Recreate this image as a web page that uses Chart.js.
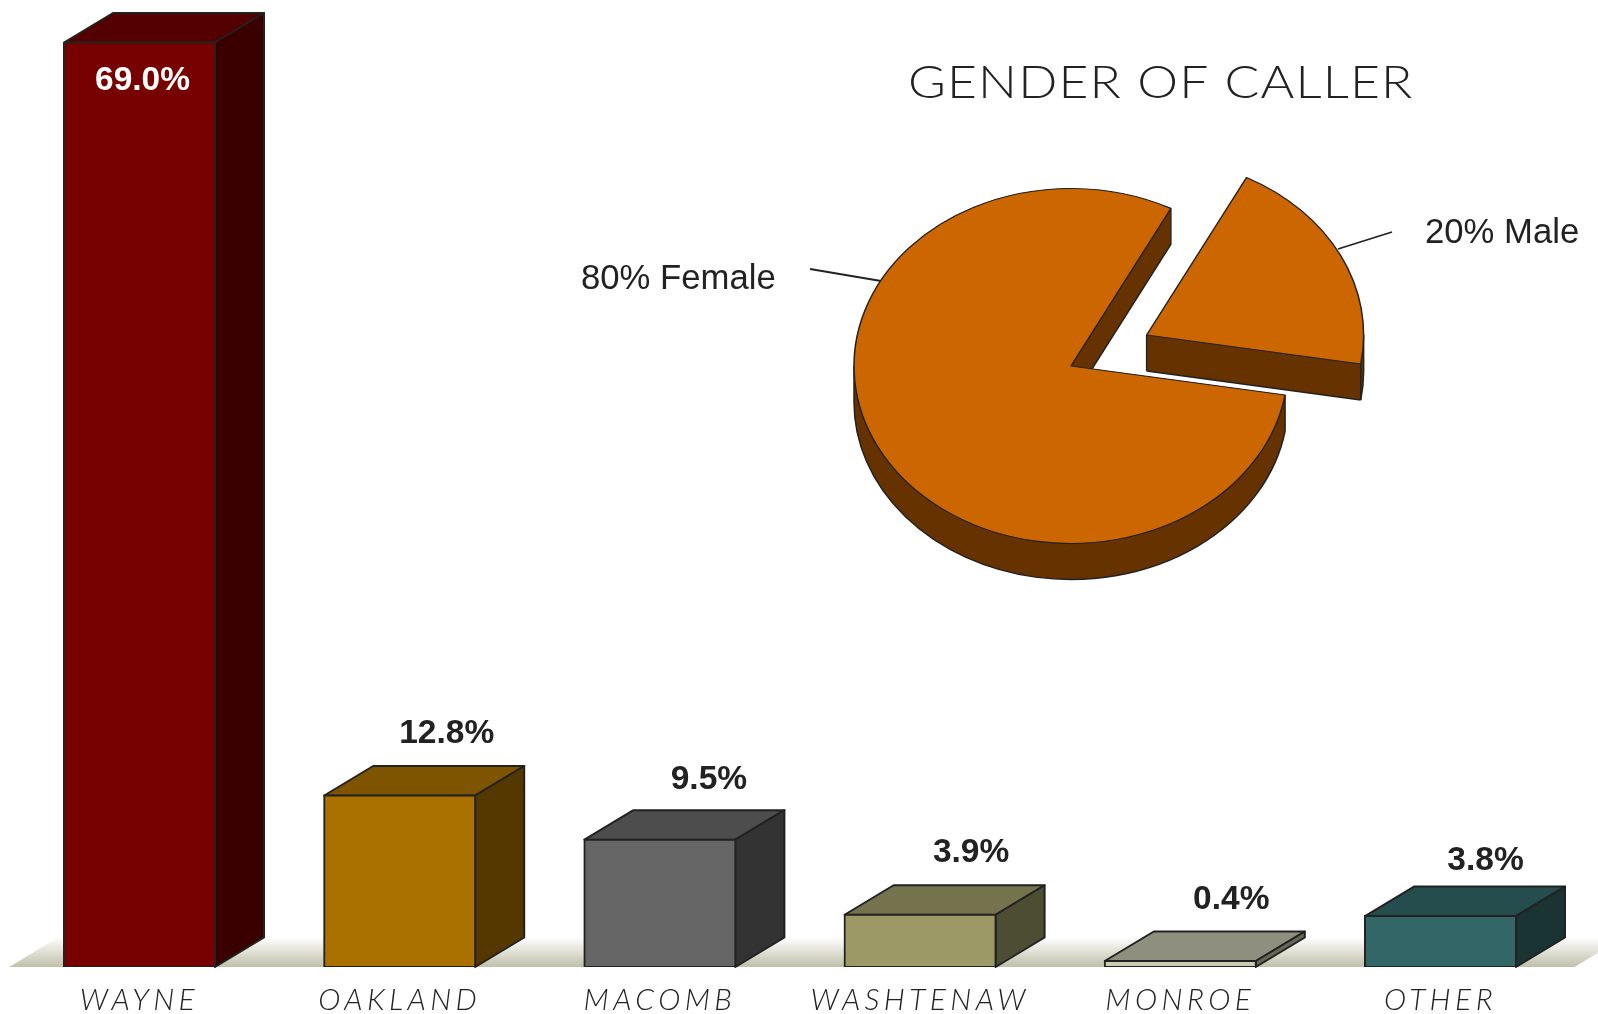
<!DOCTYPE html>
<html><head><meta charset="utf-8">
<style>html,body{margin:0;padding:0;background:#fff;overflow:hidden}canvas{position:absolute;left:0;top:0}</style>
<script src="https://cdn.jsdelivr.net/npm/chart.js@4/dist/chart.umd.min.js"></script>
</head><body>
<canvas id="bars" width="1598" height="1014"></canvas>
<canvas id="pie" width="1598" height="1014"></canvas>
<script>
const categories = ['WAYNE','OAKLAND','MACOMB','WASHTENAW','MONROE','OTHER'];
const callShare = [69.0,12.8,9.5,3.9,0.4,3.8];
const frontColors = ['#770000','#AA7000','#666666','#9C9966','#CCCCB3','#336666'];
const topColors = ['#550000','#7F5400','#4D4D4D','#75734D','#8F8F7F','#264D4D'];
const sideColors = ['#3A0000','#553800','#333333','#4D4D33','#666659','#1A3333'];
const labelNudgeX = [0,-1,1,3,3,-3];
const labelNudgeY = [-1,-2,-1,-3,-2,4];
const genderLabels = ['Female','Male'];
const genderShare = [80,20];
const pieTop = '#CC6600', pieSide = '#663300', inkColor = '#222222';
const thinFont = '"Lato",sans-serif';
const boldFont = '"Liberation Sans",Arial,sans-serif';

const DX = 49, DY = 29.5;
const bar3d = {
  id:'bar3d',
  beforeDraw(chart){ chart.ctx.letterSpacing='4.4px'; },
  beforeDatasetsDraw(chart){
    const c = chart.ctx, a = chart.chartArea;
    c.letterSpacing='0px';
    const g = c.createLinearGradient(0,a.bottom,0,a.bottom-30);
    g.addColorStop(0,'#C0C0AC'); g.addColorStop(0.35,'#D6D6C8'); g.addColorStop(1,'#FFFFFF');
    c.fillStyle = g;
    c.beginPath();
    c.moveTo(a.left,a.bottom); c.lineTo(a.right+4,a.bottom);
    c.lineTo(a.right+4+DX,a.bottom-30); c.lineTo(a.left+DX,a.bottom-30); c.closePath(); c.fill();
    chart.getDatasetMeta(0).data.forEach((el,i)=>{
      const l = el.x-el.width/2, r = el.x+el.width/2, t = el.y, b = el.base;
      c.lineWidth = 2; c.strokeStyle = inkColor; c.lineJoin='round';
      c.fillStyle = topColors[i];
      c.beginPath(); c.moveTo(l,t); c.lineTo(l+DX,t-DY); c.lineTo(r+DX,t-DY); c.lineTo(r,t); c.closePath(); c.fill(); c.stroke();
      c.fillStyle = sideColors[i];
      c.beginPath(); c.moveTo(r,t); c.lineTo(r+DX,t-DY); c.lineTo(r+DX,b-DY); c.lineTo(r,b); c.closePath(); c.fill(); c.stroke();
    });
  },
  afterDatasetsDraw(chart){
    const c = chart.ctx;
    c.save();
    c.font = 'bold 33.5px '+boldFont; c.textAlign='center'; c.textBaseline='alphabetic';
    chart.getDatasetMeta(0).data.forEach((el,i)=>{
      const txt = callShare[i].toFixed(1)+'%';
      const nx = labelNudgeX[i], ny = labelNudgeY[i];
      if (el.base-el.y > 400){ c.fillStyle='#FFFFFF'; c.fillText(txt,el.x+3+nx,el.y+48+ny); }
      else { c.fillStyle=inkColor; c.fillText(txt,el.x+48+nx,el.y-50+ny); }
    });
    c.restore();
  }
};
new Chart(document.getElementById('bars'),{
  type:'bar',
  data:{labels:categories,datasets:[{data:callShare,backgroundColor:frontColors,borderColor:inkColor,borderWidth:2,borderSkipped:false,inflateAmount:1,minBarLength:6,barPercentage:151/260.2,categoryPercentage:1}]},
  options:{responsive:false,animation:false,devicePixelRatio:1,
    layout:{padding:{left:9.4,right:27.4,top:42.5,bottom:0}},
    plugins:{legend:{display:false},tooltip:{enabled:false},title:{display:false}},
    scales:{
      y:{display:false,min:0,max:69},
      x:{grid:{display:false},border:{display:false},
        afterFit(s){s.height=47;},
        ticks:{color:'#222222',padding:7,autoSkip:false,maxRotation:0,font:{family:thinFont,size:30,style:'italic',weight:'300'}}}
    }},
  plugins:[bar3d]
});

const SQUASH = 0.818, DEPTH = 36, EXPLODE = 84.6;
const TAU = 2*Math.PI;
const pie3d = {
  id:'pie3d',
  beforeDatasetsDraw(chart){
    const c = chart.ctx, arcs = chart.getDatasetMeta(0).data;
    const cx = arcs[0].x, cy = arcs[0].y;
    const mid = (arcs[1].startAngle+arcs[1].endAngle)/2;
    arcs[1].x = cx+Math.cos(mid)*EXPLODE; arcs[1].y = cy+Math.sin(mid)*EXPLODE;
    c.save();
    c.lineWidth=1.8; c.strokeStyle='#222';
    c.beginPath(); c.moveTo(810,269); c.lineTo(881,281); c.moveTo(1392,232); c.lineTo(1338,249); c.stroke();
    const A=(el,d)=>[el.x, cy+(el.y-cy)*SQUASH+d];
    const P=(el,a,d)=>{const q=A(el,d);return [q[0]+el.outerRadius*Math.cos(a), q[1]+el.outerRadius*SQUASH*Math.sin(a)];};
    const path=(el,d)=>{
      const [ax,ay]=A(el,d);
      c.beginPath(); c.moveTo(ax,ay);
      c.ellipse(ax,ay,el.outerRadius,el.outerRadius*SQUASH,0,el.startAngle,el.endAngle);
      c.closePath();
    };
    arcs.forEach(el=>{
      c.fillStyle=pieSide;
      for(let d=0;d<=DEPTH;d++){path(el,d);c.fill();}
      c.strokeStyle='#222'; c.lineWidth=1.5; c.lineJoin='round';
      const [ax,ay]=A(el,DEPTH);
      for(const [lo,hi] of [[0,Math.PI],[TAU,TAU+Math.PI]]){
        const s=Math.max(lo,el.startAngle), e=Math.min(hi,el.endAngle);
        if(s<e){c.beginPath();c.ellipse(ax,ay,el.outerRadius,el.outerRadius*SQUASH,0,s,e);c.stroke();}
      }
      c.beginPath();
      const pe=P(el,el.endAngle,DEPTH); c.moveTo(pe[0],pe[1]); c.lineTo(ax,ay);
      const verts=[el.startAngle,el.endAngle];
      for(const a of [Math.PI,TAU]) if(a>el.startAngle&&a<el.endAngle) verts.push(a);
      verts.forEach(a=>{const p=P(el,a,0);c.moveTo(p[0],p[1]);c.lineTo(p[0],p[1]+DEPTH);});
      const ap=A(el,0);c.moveTo(ap[0],ap[1]);c.lineTo(ap[0],ap[1]+DEPTH);
      c.stroke();
    });
    c.restore();
    c.save();
    c.translate(cx,cy);c.scale(1,SQUASH);c.translate(-cx,-cy);
  },
  afterDatasetsDraw(chart){
    const c = chart.ctx;
    c.restore();
    c.save();
    c.fillStyle=inkColor; c.textBaseline='alphabetic'; c.textAlign='left';
    c.font='34.7px '+boldFont;
    c.fillText(genderShare[0]+'% '+genderLabels[0],581,289);
    c.fillText(genderShare[1]+'% '+genderLabels[1],1425,243);
    c.font='300 46px '+thinFont; c.letterSpacing='1.05px';
    c.translate(908,98); c.scale(1.12,1);
    c.fillText('GENDER OF CALLER',0,0);
    c.restore();
  }
};
new Chart(document.getElementById('pie'),{
  type:'pie',
  data:{labels:genderLabels,datasets:[{data:genderShare,backgroundColor:pieTop,borderColor:'#222',borderWidth:1.5,clip:false}]},
  options:{responsive:false,animation:false,devicePixelRatio:1,radius:217,rotation:99.4,
    layout:{padding:{left:544,right:0,top:0,bottom:282}},
    plugins:{legend:{display:false},tooltip:{enabled:false}}},
  plugins:[pie3d]
});
</script>
</body></html>
